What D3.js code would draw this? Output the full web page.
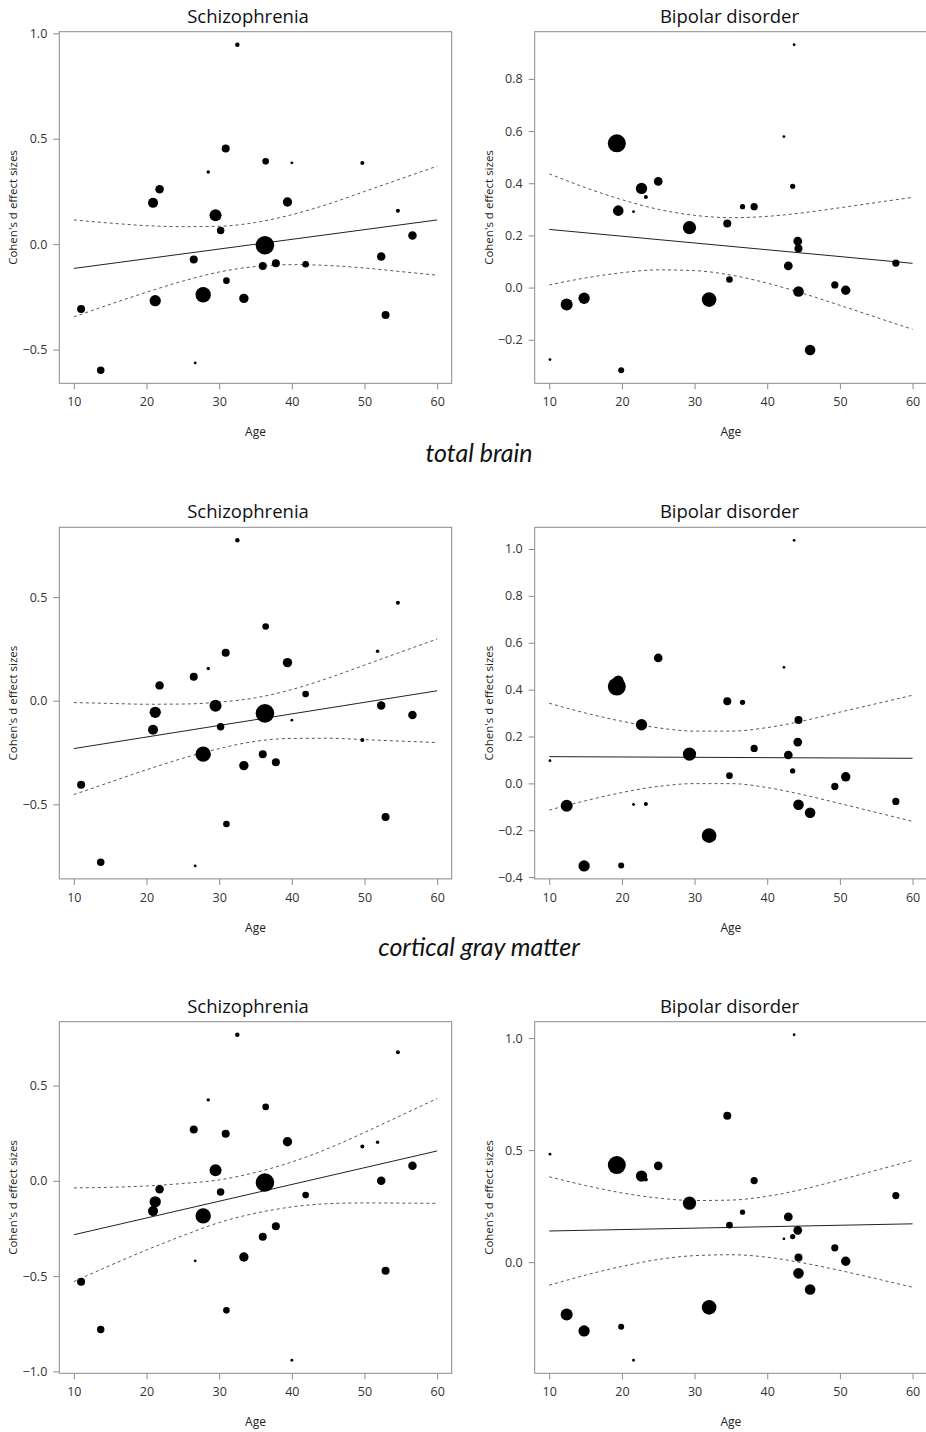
<!doctype html>
<html>
<head>
<meta charset="utf-8">
<script src="https://d3js.org/d3.v7.min.js"></script>
<style>
  body { margin: 0; background: #fff; }
  text { font-family: "Open Sans", sans-serif; }
</style>
</head>
<body>
<svg id="chart" width="926" height="1432"></svg>
<script>
// ---- data ----
// the same studies appear in every region, so age and weight are shared
var szAge    = [11.0, 13.7, 20.9, 21.2, 21.8, 26.5, 26.7, 27.8, 28.5, 29.5, 30.2, 30.9, 31.0, 32.5,
                33.4, 36.0, 36.3, 36.4, 37.8, 39.4, 40.0, 41.9, 49.7, 51.8, 52.3, 52.9, 54.6, 56.6];
var szWeight = [16, 14, 25, 32, 18, 16, 2, 59, 3, 36, 14, 16, 11, 5,
                22, 16, 86, 11, 16, 22, 2, 11, 4, 3, 18, 16, 4, 18];

var szTotalBrain = [-0.307, -0.598, 0.196, -0.268, 0.26, -0.073, -0.563, -0.24, 0.342, 0.137, 0.065, 0.454, -0.173, 0.946,
                    -0.257, -0.103, -0.005, 0.393, -0.09, 0.2, 0.386, -0.095, 0.385, null, -0.058, -0.336, 0.158, 0.041];
var szCorticalGM = [-0.405, -0.779, -0.14, -0.056, 0.074, 0.116, -0.797, -0.258, 0.155, -0.024, -0.126, 0.232, -0.595, 0.774,
                    -0.313, -0.258, -0.061, 0.358, -0.297, 0.184, -0.094, 0.032, -0.19, 0.239, -0.023, -0.561, 0.473, -0.069];
var szThird      = [-0.53, -0.781, -0.159, -0.11, -0.044, 0.269, -0.42, -0.184, 0.425, 0.056, -0.059, 0.247, -0.68, 0.767,
                    -0.4, -0.294, -0.009, 0.388, -0.238, 0.205, -0.942, -0.075, 0.18, 0.203, 0.0, -0.472, 0.675, 0.079];

var bdAge    = [10.1, 12.4, 14.8, 19.3, 19.5, 19.9, 21.6, 22.7, 23.3, 25.0, 29.3, 32.0, 34.5, 34.8,
                36.6, 38.2, 42.3, 42.9, 43.5, 43.7, 44.2, 44.3, 44.3, 45.9, 49.3, 50.8, 57.7];
var bdWeight = [2, 36, 32, 81, 28, 9, 2, 32, 4, 19, 44, 54, 16, 11,
                7, 13, 2, 19, 7, 2, 19, 16, 28, 28, 13, 22, 13];

var bdTotalBrain = [-0.276, -0.065, -0.041, 0.553, 0.295, -0.317, 0.291, 0.38, 0.347, 0.407, 0.23, -0.046, 0.246, 0.031,
                    0.31, 0.31, 0.579, 0.083, 0.388, 0.931, 0.178, 0.15, -0.015, -0.239, 0.01, -0.01, 0.094];
var bdCorticalGM = [0.097, -0.095, -0.352, 0.413, 0.438, -0.35, -0.09, 0.25, -0.088, 0.535, 0.125, -0.223, 0.35, 0.033,
                    0.346, 0.149, 0.495, 0.121, 0.053, 1.037, 0.176, 0.27, -0.091, -0.125, -0.013, 0.028, -0.077];
var bdThird      = [0.482, -0.234, -0.307, 0.433, 0.44, -0.288, -0.438, 0.384, 0.369, 0.43, 0.263, -0.202, 0.653, 0.165,
                    0.223, 0.364, 0.104, 0.202, 0.114, 1.015, 0.142, 0.021, -0.05, -0.122, 0.064, 0.004, 0.297];

// meta-regression line (at age 10 and 60) and confidence band read at these ages
var fitAge = [10, 60];
var ciAge  = [10, 15, 20, 25, 30, 35, 40, 45, 50, 55, 60];

var szTotalFit   = [-0.115, 0.115];
var szTotalUpper = [0.115, 0.10, 0.088, 0.083, 0.085, 0.103, 0.14, 0.19, 0.25, 0.31, 0.37];
var szTotalLower = [-0.345, -0.285, -0.228, -0.175, -0.132, -0.106, -0.097, -0.101, -0.113, -0.13, -0.147];

var szCortFit   = [-0.231, 0.048];
var szCortUpper = [-0.009, -0.013, -0.017, -0.016, -0.007, 0.014, 0.054, 0.109, 0.172, 0.235, 0.298];
var szCortLower = [-0.453, -0.393, -0.333, -0.278, -0.231, -0.196, -0.182, -0.181, -0.188, -0.195, -0.202];

var szThirdFit   = [-0.283, 0.157];
var szThirdUpper = [-0.037, -0.034, -0.027, -0.014, 0.005, 0.044, 0.099, 0.17, 0.254, 0.343, 0.432];
var szThirdLower = [-0.529, -0.444, -0.363, -0.288, -0.219, -0.17, -0.137, -0.12, -0.116, -0.117, -0.118];

var bdTotalFit   = [0.223, 0.093];
var bdTotalUpper = [0.436, 0.383, 0.337, 0.30, 0.277, 0.268, 0.273, 0.287, 0.306, 0.326, 0.346];
var bdTotalLower = [0.01, 0.037, 0.057, 0.068, 0.065, 0.048, 0.017, -0.023, -0.068, -0.114, -0.16];

var bdCortFit   = [0.114, 0.107];
var bdCortUpper = [0.342, 0.30, 0.265, 0.237, 0.223, 0.223, 0.238, 0.267, 0.304, 0.34, 0.376];
var bdCortLower = [-0.114, -0.074, -0.039, -0.013, -0.001, -0.001, -0.018, -0.049, -0.086, -0.124, -0.162];

var bdThirdFit   = [0.139, 0.171];
var bdThirdUpper = [0.381, 0.342, 0.309, 0.286, 0.275, 0.277, 0.294, 0.326, 0.367, 0.41, 0.454];
var bdThirdLower = [-0.103, -0.058, -0.019, 0.012, 0.029, 0.033, 0.022, -0.004, -0.037, -0.074, -0.112];

var xTicks = [10, 20, 30, 40, 50, 60];
var szTotalTicks = [-0.5, 0, 0.5, 1.0];
var szCortTicks  = [-0.5, 0, 0.5];
var szThirdTicks = [-1.0, -0.5, 0, 0.5];
var bdTotalTicks = [-0.2, 0, 0.2, 0.4, 0.6, 0.8];
var bdCortTicks  = [-0.4, -0.2, 0, 0.2, 0.4, 0.6, 0.8, 1.0];
var bdThirdTicks = [0, 0.5, 1.0];

var regionLabels = ["total brain", "cortical gray matter"];

var panels = [
  {title: "Schizophrenia",    col: 0, row: 0, age: szAge, w: szWeight, d: szTotalBrain, fit: szTotalFit, up: szTotalUpper, lo: szTotalLower, ticks: szTotalTicks},
  {title: "Bipolar disorder", col: 1, row: 0, age: bdAge, w: bdWeight, d: bdTotalBrain, fit: bdTotalFit, up: bdTotalUpper, lo: bdTotalLower, ticks: bdTotalTicks},
  {title: "Schizophrenia",    col: 0, row: 1, age: szAge, w: szWeight, d: szCorticalGM, fit: szCortFit,  up: szCortUpper,  lo: szCortLower,  ticks: szCortTicks},
  {title: "Bipolar disorder", col: 1, row: 1, age: bdAge, w: bdWeight, d: bdCorticalGM, fit: bdCortFit,  up: bdCortUpper,  lo: bdCortLower,  ticks: bdCortTicks},
  {title: "Schizophrenia",    col: 0, row: 2, age: szAge, w: szWeight, d: szThird,      fit: szThirdFit, up: szThirdUpper, lo: szThirdLower, ticks: szThirdTicks},
  {title: "Bipolar disorder", col: 1, row: 2, age: bdAge, w: bdWeight, d: bdThird,      fit: bdThirdFit, up: bdThirdUpper, lo: bdThirdLower, ticks: bdThirdTicks}
];

// ---- layout ----
var svg = d3.select("#chart");
var colLeft = [59.3, 534.7],
    rowTop = [31.7, 527.3, 1021.7],
    pw = 392.4, ph = 351.6;
var titleX = [248, 729.5];

var rScale = d3.scaleSqrt().domain([0, 100]).range([0, 10]);
var fmt = d3.format(".1f");

panels.forEach(function (p) {
  var g = svg.append("g")
    .attr("transform", "translate(" + colLeft[p.col] + "," + rowTop[p.row] + ")");

  var pts = p.d.map(function (v, i) { return {age: p.age[i], w: p.w[i], d: v}; })
               .filter(function (o) { return o.d !== null; });

  // R style: extend the data range by 4% on each side
  var ext = d3.extent(pts, function (o) { return o.d; });
  var pad = (ext[1] - ext[0]) * 0.04;
  var x = d3.scaleLinear().domain([8, 62]).range([0, pw]);
  var y = d3.scaleLinear().domain([ext[0] - pad, ext[1] + pad]).range([ph, 0]);

  // axes
  var ax = g.append("g")
    .attr("transform", "translate(0," + ph + ")")
    .call(d3.axisBottom(x).tickValues(xTicks).tickSize(6).tickPadding(8));
  var ay = g.append("g")
    .call(d3.axisLeft(y).tickValues(p.ticks).tickFormat(fmt).tickSize(6).tickPadding(6));
  [ax, ay].forEach(function (a) {
    a.select(".domain").remove();
    a.selectAll("line").attr("stroke", "#8a8a8a");
    a.selectAll("text").attr("fill", "#333").style("font-size", "12.5px")
      .style("font-family", "'Open Sans', sans-serif");
  });

  // box
  g.append("rect")
    .attr("width", pw).attr("height", ph)
    .attr("fill", "none").attr("stroke", "#8a8a8a").attr("stroke-width", 1);

  var band = d3.line().curve(d3.curveMonotoneX)
    .x(function (d) { return x(d[0]); })
    .y(function (d) { return y(d[1]); });

  g.append("path")
    .datum(d3.zip(ciAge, p.up))
    .attr("d", band)
    .attr("fill", "none").attr("stroke", "#444").attr("stroke-width", 0.9)
    .attr("stroke-dasharray", "3,3");
  g.append("path")
    .datum(d3.zip(ciAge, p.lo))
    .attr("d", band)
    .attr("fill", "none").attr("stroke", "#444").attr("stroke-width", 0.9)
    .attr("stroke-dasharray", "3,3");
  g.append("path")
    .datum(d3.zip(fitAge, p.fit))
    .attr("d", band)
    .attr("fill", "none").attr("stroke", "#222").attr("stroke-width", 1);

  g.append("g")
    .selectAll("circle")
    .data(pts)
    .enter()
    .append("circle")
    .attr("cx", function (d) { return x(d.age); })
    .attr("cy", function (d) { return y(d.d); })
    .attr("r", function (d) { return rScale(d.w); })
    .attr("fill", "#000");

  // titles and axis labels
  svg.append("text")
    .attr("x", titleX[p.col])
    .attr("y", rowTop[p.row] - 9)
    .attr("text-anchor", "middle")
    .style("font-size", "18.5px")
    .attr("fill", "#111")
    .text(p.title);

  g.append("text")
    .attr("x", pw / 2)
    .attr("y", ph + 53)
    .attr("text-anchor", "middle")
    .style("font-size", "12px")
    .attr("fill", "#222")
    .text("Age");

  g.append("text")
    .attr("text-anchor", "middle")
    .attr("transform", "translate(-42," + (ph / 2) + ")rotate(-90)")
    .style("font-size", "11.5px")
    .attr("fill", "#222")
    .text("Cohen's d effect sizes");
});

// region labels between the rows
regionLabels.forEach(function (lab, i) {
  svg.append("text")
    .attr("x", 479)
    .attr("y", 462 + i * 494)
    .attr("text-anchor", "middle")
    .style("font-family", "Lato, sans-serif")
    .style("font-style", "italic")
    .style("font-size", "25px")
    .attr("fill", "#111")
    .text(lab);
});
</script>
</body>
</html>
